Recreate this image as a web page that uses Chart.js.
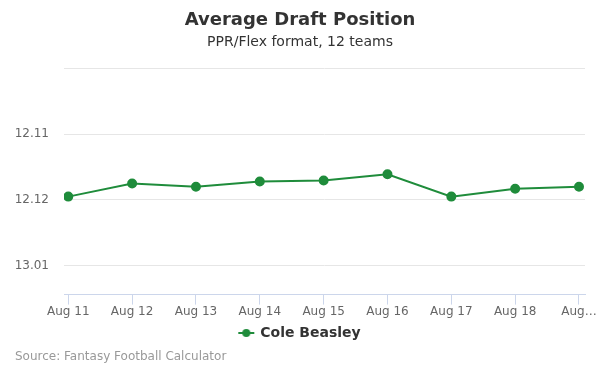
<!DOCTYPE html>
<html>
<head>
<meta charset="utf-8">
<script src="https://cdn.jsdelivr.net/npm/chart.js@4.4.0/dist/chart.umd.min.js"></script>
<style>
  body { margin: 0; background: #fff; }
  #wrap { position: relative; width: 600px; height: 375px; }
  #source { position: absolute; left: 15px; top: 349px; font: 12px "DejaVu Sans"; color: #999; }
</style>
</head>
<body>
<div id="wrap">
  <canvas id="adpChart" width="600" height="375"></canvas>
  <div id="source">Source: Fantasy Football Calculator</div>
</div>
<script>
var categories = ['Aug 11', 'Aug 12', 'Aug 13', 'Aug 14', 'Aug 15', 'Aug 16', 'Aug 17', 'Aug 18', 'Aug 19'];
// overall pick number (12 teams): 143 = 12.11, 144 = 12.12, 145 = 13.01
var adpPicks = [143.95, 143.75, 143.80, 143.72, 143.705, 143.61, 143.95, 143.83, 143.80];
var yTickValues = [142, 143, 144, 145];
var yTickLabels = ['', '12.11', '12.12', '13.01'];

var lineColor = '#1f8c3b';

// legend symbol: short line with a dot
var sym = document.createElement('canvas');
sym.width = 18; sym.height = 10;
var sc = sym.getContext('2d');
sc.strokeStyle = lineColor; sc.lineWidth = 2;
sc.beginPath(); sc.moveTo(1, 5); sc.lineTo(17, 5); sc.stroke();
sc.fillStyle = lineColor;
sc.beginPath(); sc.arc(9, 5, 4, 0, Math.PI * 2); sc.fill();

var points = [];
for (var i = 0; i < adpPicks.length; i++) {
  points.push({ x: i, y: adpPicks[i] });
}

Chart.defaults.font.family = '"DejaVu Sans"';

var ctx = document.getElementById('adpChart');
var chart = new Chart(ctx, {
  type: 'line',
  data: {
    datasets: [{
      label: 'Cole Beasley',
      data: points,
      borderColor: lineColor,
      backgroundColor: lineColor,
      borderWidth: 2,
      pointRadius: 4,
      pointHoverRadius: 5,
      pointStyle: 'circle',
      tension: 0
    }]
  },
  options: {
    responsive: false,
    animation: false,
    layout: { padding: { left: 15, right: 15, top: 0, bottom: 25 } },
    plugins: {
      title: {
        display: true,
        text: 'Average Draft Position',
        color: '#333333',
        font: { size: 18, weight: 'bold' },
        padding: { top: 10, bottom: 0 }
      },
      subtitle: {
        display: true,
        text: 'PPR/Flex format, 12 teams',
        color: '#333333',
        font: { size: 14 },
        padding: { top: 2, bottom: 18 }
      },
      legend: {
        position: 'bottom',
        labels: {
          usePointStyle: true,
          pointStyle: sym,
          color: '#333333',
          font: { size: 14, weight: 'bold' },
          padding: 7
        }
      },
      tooltip: { enabled: false }
    },
    scales: {
      x: {
        type: 'linear',
        min: -0.067,
        max: 8.094,
        afterBuildTicks: function(axis) {
          axis.ticks = categories.map(function(c, idx) { return { value: idx }; });
        },
        ticks: {
          autoSkip: false,
          maxRotation: 0,
          color: '#666666',
          font: { size: 12 },
          padding: 0,
          callback: function(value) {
            if (value === categories.length - 1) return 'Aug…';
            return categories[value];
          }
        },
        grid: {
          drawOnChartArea: false,
          drawTicks: true,
          tickLength: 10,
          color: '#ccd6eb'
        },
        border: { color: '#ccd6eb', width: 1 }
      },
      y: {
        reverse: true,
        min: 142,
        max: 145.44,
        afterBuildTicks: function(axis) {
          axis.ticks = yTickValues.map(function(v) { return { value: v }; });
        },
        afterFit: function(scale) { scale.width = 49; },
        ticks: {
          color: '#666666',
          font: { size: 12 },
          padding: 15,
          callback: function(value) {
            var k = yTickValues.indexOf(value);
            return k >= 0 ? yTickLabels[k] : '';
          }
        },
        grid: { color: '#e6e6e6', drawTicks: false },
        border: { display: false }
      }
    }
  }
});
</script>
</body>
</html>
